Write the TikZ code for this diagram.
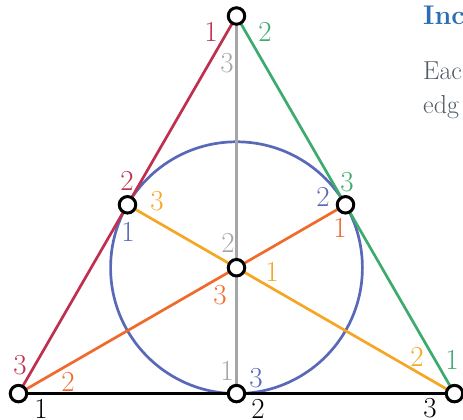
\documentclass[tikz,border=0pt]{standalone}
\usepackage{fontspec}
\usetikzlibrary{backgrounds}
\definecolor{cred}{HTML}{C0304E}
\definecolor{cgreen}{HTML}{3DAA6E}
\definecolor{cgrey}{HTML}{A6A6A6}
\definecolor{cyel}{HTML}{F5A623}
\definecolor{corg}{HTML}{F06A2C}
\definecolor{cblue}{HTML}{5A68B8}
\definecolor{headblue}{HTML}{2E6DB4}
\definecolor{bodygrey}{HTML}{505C68}
\begin{document}
\begin{tikzpicture}[x=1pt,y=-1pt,
  vtx/.style={circle,draw=black,fill=white,line width=3pt,minimum size=16.5pt,inner sep=0pt},
  edge/.style={line width=2.7pt},
  lbl/.style={inner sep=0pt,font=\fontsize{29}{31}\selectfont},
  head/.style={inner sep=0pt,anchor=base west,font=\fontsize{27}{30}\selectfont\bfseries,text=headblue},
  body/.style={inner sep=0pt,anchor=base west,font=\fontsize{26}{30}\selectfont,text=bodygrey}]
\useasboundingbox (0,0) rectangle (463,420);
\clip (0,0) rectangle (463,420);
% vertices
\node[vtx] (T)  at (236.5,16) {};
\node[vtx] (L)  at (127.5,204.8) {};
\node[vtx] (R)  at (345.5,204.8) {};
\node[vtx] (C)  at (236.5,267.7) {};
\node[vtx] (BL) at (18.5,393.6) {};
\node[vtx] (BM) at (236.5,393.6) {};
\node[vtx] (BR) at (454.5,393.6) {};
\begin{pgfonlayer}{background}
  \draw[edge,cblue] (C.center) circle[radius=125.9];
  \draw[edge,cred] (T.center) -- (BL.center);
  \draw[edge,cgreen] (T.center) -- (BR.center);
  \draw[edge,cgrey] (T.center) -- (BM.center);
  \draw[edge,black] (BL.center) -- (BR.center);
  \draw[edge,cyel] (L.center) -- (BR.center);
  \draw[edge,corg] (BL.center) -- (R.center);
\end{pgfonlayer}
% labels
\node[lbl,text=cred]   (t1) at (211,32) {1};
\node[lbl,text=cgreen] (t2) at (265,32) {2};
\node[lbl,text=cgrey]  (t3) at (227,63) {3};
\node[lbl,text=cred]   (l2) at (127,181) {2};
\node[lbl,text=cyel]   (l3) at (157,201) {3};
\node[lbl,text=cblue]  (l1) at (128,232) {1};
\node[lbl,text=cblue]  (r2) at (323,197) {2};
\node[lbl,text=cgreen] (r3) at (347,182) {3};
\node[lbl,text=corg]   (r1) at (340,228) {1};
\node[lbl,text=cgrey]  (c2) at (228,243) {2};
\node[lbl,text=cyel]   (c1) at (272,272) {1};
\node[lbl,text=corg]   (c3) at (220,295) {3};
\node[lbl,text=cred]   (a3) at (20,365) {3};
\node[lbl,text=corg]   (a2) at (68,382) {2};
\node[lbl,text=black]  (a1) at (41,408.5) {1};
\node[lbl,text=cgrey]  (b1) at (227,371) {1};
\node[lbl,text=cblue]  (b3) at (256,378) {3};
\node[lbl,text=black]  (b2) at (258,408.5) {2};
\node[lbl,text=cyel]   (d2) at (417,357) {2};
\node[lbl,text=cgreen] (d1) at (452,360) {1};
\node[lbl,text=black]  (d3) at (430,408.5) {3};
% cropped page text
\node[head] (hd) at (423,24.5) {Inc};
\node[body] (bd1) at (423,79.5) {Eac};
\node[body] (bd2) at (423,113.5) {edg};
\end{tikzpicture}
\end{document}
